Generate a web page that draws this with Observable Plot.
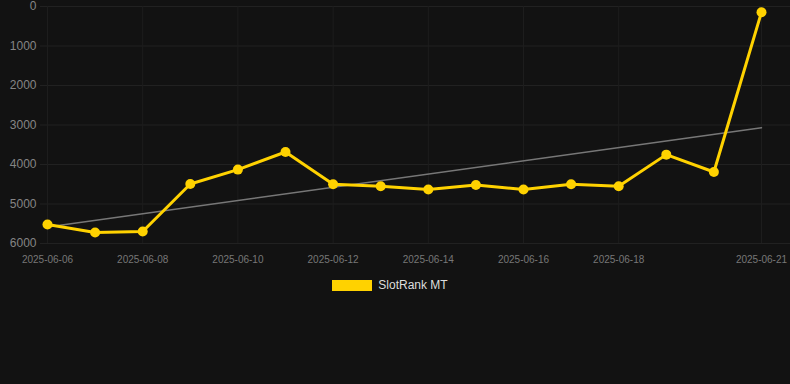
<!DOCTYPE html>
<html>
<head>
<meta charset="utf-8">
<script src="https://cdn.jsdelivr.net/npm/d3@7"></script>
<script src="https://cdn.jsdelivr.net/npm/@observablehq/plot@0.6"></script>
<style>
  html, body { margin: 0; padding: 0; background: #121212; }
  body { width: 790px; height: 384px; overflow: hidden; font-family: Arial, "Liberation Sans", sans-serif; }
  #legend { display: flex; justify-content: center; align-items: center; margin-top: 8px; margin-left: -10px; color: #dddddd; font-size: 12px; }
  #legend .sw { width: 40px; height: 11px; background: #ffd200; margin-right: 6px; }
</style>
</head>
<body>
<div id="chart"></div>
<div id="legend"><span class="sw"></span><span>SlotRank MT</span></div>
<script>
const dates = ["2025-06-06","2025-06-07","2025-06-08","2025-06-09","2025-06-10","2025-06-11","2025-06-12","2025-06-13","2025-06-14","2025-06-15","2025-06-16","2025-06-17","2025-06-18","2025-06-19","2025-06-20","2025-06-21"];
const ranks = [5520, 5722, 5697, 4493, 4129, 3684, 4501, 4551, 4635, 4518, 4635, 4501, 4551, 3750, 4190, 144];
const xTickLabels = ["2025-06-06","2025-06-08","2025-06-10","2025-06-12","2025-06-14","2025-06-16","2025-06-18","2025-06-21"];
const yTicks = [0, 1000, 2000, 3000, 4000, 5000, 6000];
const seriesName = "SlotRank MT";

const parse = d3.utcParse("%Y-%m-%d");
const data = dates.map((d, i) => ({date: parse(d), rank: ranks[i], series: seriesName}));
const xTicks = xTickLabels.map(parse);

const chart = Plot.plot({
  width: 790,
  height: 270,
  marginTop: 6,
  marginBottom: 27,
  marginLeft: 40,
  marginRight: 0,
  style: {background: "transparent", fontFamily: "Arial, 'Liberation Sans', sans-serif"},
  x: {type: "utc", domain: [parse(dates[0]), parse(dates[dates.length - 1])], insetLeft: 7, insetRight: 29},
  y: {domain: [0, 6000], reverse: true},
  marks: [
    Plot.gridY(yTicks, {stroke: "#212121", strokeOpacity: 1}),
    Plot.gridX(xTicks, {stroke: "#1d1d1d", strokeOpacity: 1}),
    Plot.axisY(yTicks, {tickSize: 0, tickPadding: 4, fontSize: 12, color: "#858585", label: null, tickFormat: d => String(d)}),
    Plot.axisX(xTicks, {tickSize: 0, tickPadding: 12, fontSize: 10, color: "#777777", label: null, tickFormat: d3.utcFormat("%Y-%m-%d")}),
    Plot.linearRegressionY(data, {x: "date", y: "rank", ci: 0, stroke: "#777777", strokeWidth: 1.5}),
    Plot.line(data, {x: "date", y: "rank", stroke: "#ffd200", strokeWidth: 3}),
    Plot.dot(data, {x: "date", y: "rank", r: 5, fill: "#ffd200", stroke: "none"})
  ]
});
document.getElementById("chart").appendChild(chart);
</script>
</body>
</html>
